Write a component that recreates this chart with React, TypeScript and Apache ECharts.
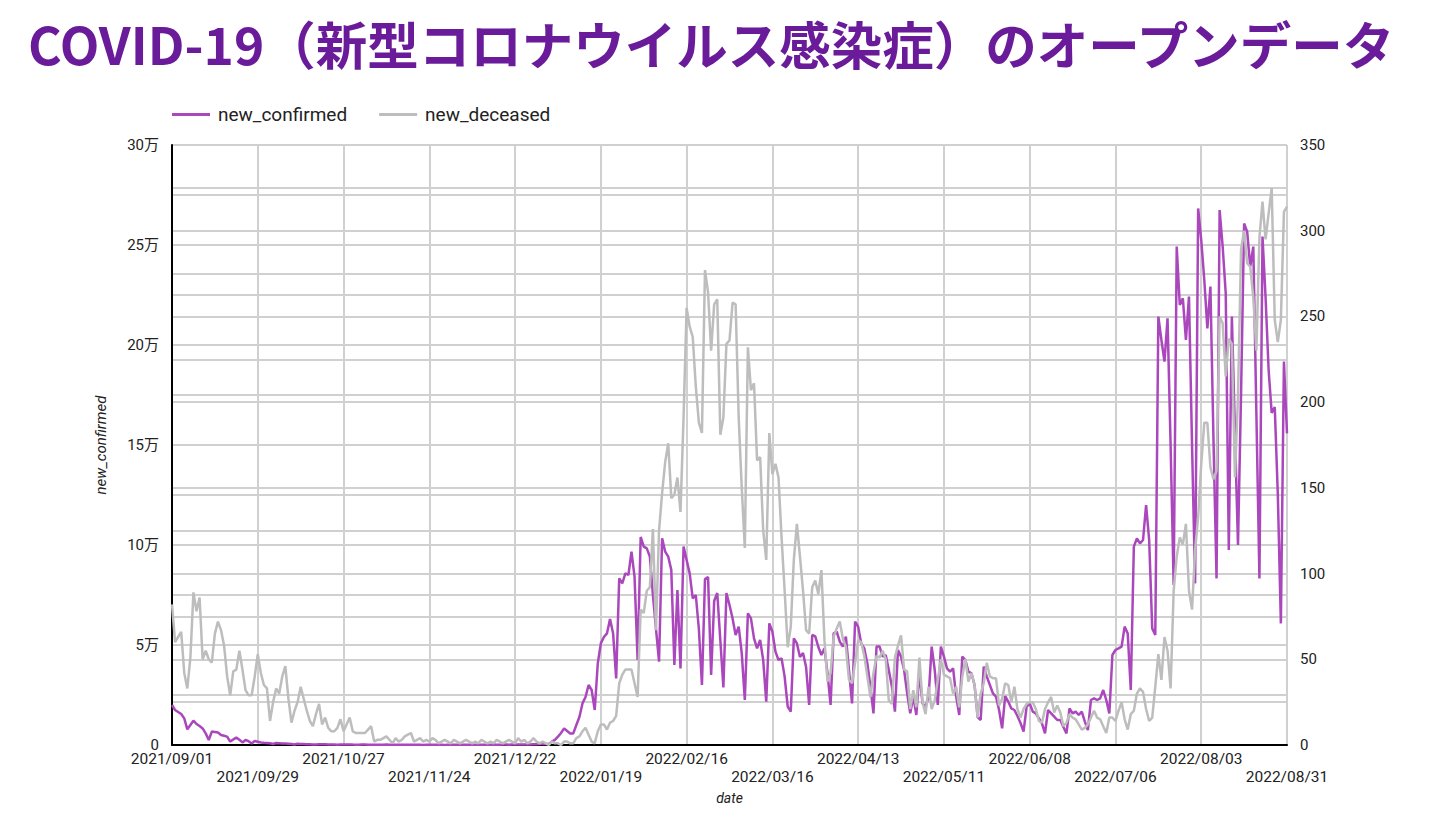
import React, { useEffect, useRef } from "react";
import * as echarts from "echarts";

const TITLE = "COVID-19（新型コロナウイルス感染症）のオープンデータ";
const SERIES_NAMES = ["new_confirmed", "new_deceased"];
const START = { y: 2021, m: 9, d: 1 };
const DAYS = 365;
const LABEL_STEP = 28;

const NEW_CONFIRMED = [
  20000, 17500, 16500, 15500, 13300, 7800, 10000,
  12200, 10500, 9500, 8300, 5800, 2500, 6700,
  6500, 6200, 5000, 4600, 4200, 1700, 2800,
  3700, 2600, 1300, 2500, 1900, 800, 2000,
  1600, 1300, 1100, 1000, 900, 500, 1000,
  900, 800, 700, 600, 500, 250, 600,
  500, 450, 400, 350, 300, 200, 400,
  400, 350, 300, 280, 260, 150, 300,
  280, 250, 230, 200, 180, 90, 220,
  200, 180, 170, 160, 150, 80, 180,
  190, 170, 150, 140, 130, 70, 150,
  160, 150, 130, 110, 100, 50, 120,
  100, 90, 110, 120, 100, 60, 120,
  130, 110, 130, 120, 110, 70, 140,
  160, 150, 170, 160, 150, 90, 180,
  190, 170, 180, 200, 190, 120, 220,
  250, 260, 250, 280, 270, 200, 380,
  400, 450, 550, 550, 450, 1700, 2600,
  4200, 6000, 8300, 7000, 5800, 5800, 10000,
  14000, 20800, 24000, 30000, 27500, 17500, 40800,
  50800, 54000, 55800, 63000, 55800, 33300, 83300,
  80800, 85800, 85000, 96700, 84200, 42500, 104000,
  99200, 98300, 94200, 75000, 58000, 41700, 103300,
  96700, 94200, 87500, 40000, 77500, 38300, 99200,
  92500, 85800, 73300, 75000, 58000, 30000, 83000,
  84000, 35000, 72000, 76000, 52500, 28800, 76000,
  70000, 63300, 55000, 59200, 45800, 22500, 65800,
  63300, 53300, 48300, 52500, 42500, 21700, 60800,
  56700, 46700, 42500, 43300, 34200, 19200, 16700,
  53300, 50800, 44000, 46000, 39000, 20000, 55000,
  54300, 49000, 45000, 48300, 35800, 20000, 55800,
  56700, 51700, 49200, 54200, 37500, 20800, 61700,
  59200, 50800, 48300, 40800, 29200, 15800, 49200,
  49200, 44200, 45000, 37500, 29200, 16700, 47500,
  44200, 37500, 25800, 15800, 24200, 15000, 36700,
  20800, 19200, 24200, 49200, 37500, 20000, 49200,
  44200, 38300, 36700, 38300, 24200, 15000, 44200,
  42500, 36700, 35800, 30000, 14000, 12500, 39200,
  34200, 30000, 25800, 24200, 17500, 8300, 24500,
  21700, 18300, 17500, 14500, 11000, 6700, 19200,
  20800, 16700, 15800, 13300, 10800, 5800, 17500,
  15800, 14200, 12500, 12500, 9000, 5800, 18300,
  15800, 16700, 15000, 16700, 11700, 7500, 22500,
  23300, 22500, 23300, 27500, 22500, 15800, 45000,
  47500, 48300, 49200, 59200, 55800, 27500, 99200,
  103300, 100800, 102500, 120000, 102500, 58300, 55000,
  214200, 202500, 191700, 213300, 150000, 80000, 249200,
  220000, 223300, 202500, 224200, 150000, 80800, 268300,
  252500, 232500, 208300, 229200, 152500, 83300, 267500,
  249200, 225800, 97500, 214200, 157000, 100000, 175700,
  260800, 256700, 239200, 249200, 166000, 83300, 254200,
  224000, 187500, 166000, 169000, 125500, 60800, 191700,
  155800,
];

const NEW_DECEASED = [
  82, 60, 63, 66, 42, 33, 51,
  89, 78, 86, 50, 55, 50, 48,
  65, 72, 67, 58, 40, 29, 43,
  44, 55, 44, 32, 29, 29, 40,
  53, 42, 35, 33, 14, 25, 33,
  30, 40, 46, 27, 13, 20, 25,
  34, 27, 20, 14, 11, 18, 24,
  12, 16, 10, 8, 8, 10, 15,
  8, 12, 16, 8, 7, 7, 7,
  7, 9, 11, 2, 3, 3, 4,
  5, 3, 1, 4, 2, 3, 5,
  6, 7, 2, 3, 4, 2, 3,
  2, 4, 3, 1, 2, 3, 2,
  1, 3, 2, 1, 2, 3, 2,
  1, 2, 1, 3, 2, 1, 2,
  1, 3, 2, 1, 2, 3, 2,
  1, 4, 2, 3, 1, 2, 4,
  2, 1, 2, 1, 0, 2, 1,
  1, 0, 2, 2, 1, 1, 4,
  5, 8, 10, 6, 2, 1, 8,
  12, 12, 9, 13, 14, 17, 36,
  41, 44, 44, 44, 36, 28, 79,
  77, 90, 92, 126, 67, 125, 147,
  165, 176, 144, 146, 156, 136, 191,
  255, 244, 238, 209, 188, 182, 277,
  264, 230, 257, 260, 181, 191, 234,
  236, 258, 257, 191, 150, 115, 232,
  207, 211, 166, 168, 125, 108, 182,
  158, 164, 156, 121, 90, 57, 69,
  108, 129, 110, 90, 67, 65, 92,
  96, 88, 102, 61, 37, 42, 63,
  68, 72, 62, 57, 38, 36, 48,
  61, 60, 52, 40, 28, 42, 52,
  51, 55, 50, 26, 24, 51, 58,
  64, 44, 43, 21, 32, 22, 51,
  25, 18, 34, 21, 26, 38, 50,
  41, 40, 39, 30, 34, 22, 40,
  50, 37, 42, 35, 16, 30, 36,
  48, 40, 39, 39, 23, 27, 36,
  35, 25, 34, 21, 16, 21, 24,
  25, 25, 21, 14, 13, 21, 25,
  28, 19, 23, 19, 11, 13, 18,
  16, 15, 12, 9, 10, 12, 16,
  20, 16, 15, 11, 7, 16, 16,
  14, 20, 25, 15, 9, 18, 20,
  30, 33, 31, 21, 14, 16, 34,
  53, 38, 63, 55, 33, 90, 110,
  121, 117, 129, 90, 79, 114, 133,
  164, 188, 188, 162, 155, 160, 250,
  246, 215, 237, 234, 156, 203, 289,
  300, 281, 279, 261, 230, 296, 317,
  295, 310, 325, 248, 235, 248, 311,
  314,
];

function buildDates(): string[] {
  const out: string[] = [];
  const d = new Date(Date.UTC(START.y, START.m - 1, START.d));
  for (let i = 0; i < DAYS; i++) {
    const y = d.getUTCFullYear();
    const m = String(d.getUTCMonth() + 1).padStart(2, "0");
    const dd = String(d.getUTCDate()).padStart(2, "0");
    out.push(`${y}/${m}/${dd}`);
    d.setUTCDate(d.getUTCDate() + 1);
  }
  return out;
}

const DATES = buildDates();

const GRID_COLOR = "#d0d0d0";
const PURPLE = "#ab47bc";
const GRAY = "#bdbdbd";
const FONT = 'Roboto, "Noto Sans CJK JP", sans-serif';

export default function App() {
  const ref = useRef<HTMLDivElement>(null);

  useEffect(() => {
    if (!ref.current) return;
    const chart = echarts.init(ref.current, undefined, { renderer: "svg" });
    const showTick = (idx: number) => idx % LABEL_STEP === 0;
    chart.setOption({
      animation: false,
      backgroundColor: "#ffffff",
      textStyle: { fontFamily: FONT },
      title: {
        text: TITLE,
        left: 28,
        top: 17,
        padding: 0,
        textStyle: {
          fontFamily: '"Noto Sans CJK JP", sans-serif',
          fontWeight: "bold",
          fontSize: 51.5,
          color: "#6a1b9a",
        },
      },
      legend: {
        left: 172,
        top: 105,
        padding: 0,
        icon: "rect",
        itemWidth: 38,
        itemHeight: 3,
        itemGap: 32,
        data: SERIES_NAMES,
        textStyle: {
          fontFamily: FONT,
          fontSize: 19,
          color: "#222222",
          padding: [0, 0, 0, 3],
        },
      },
      grid: { left: 172, right: 142, top: 145, bottom: 74, containLabel: false },
      xAxis: {
        type: "category",
        data: DATES,
        boundaryGap: false,
        name: "date",
        nameLocation: "middle",
        nameGap: 46,
        nameTextStyle: { fontStyle: "italic", fontSize: 14, color: "#222222", fontFamily: FONT },
        axisLine: { show: true, lineStyle: { color: "#000000", width: 2 } },
        axisTick: { show: false, interval: showTick },
        axisLabel: {
          interval: showTick,
          margin: 5,
          fontSize: 15.5,
          lineHeight: 18,
          color: "#222222",
          fontFamily: FONT,
          formatter: (v: string, idx: number) =>
            (idx / LABEL_STEP) % 2 === 1 ? "\n" + v : v,
        },
        splitLine: {
          show: true,
          interval: showTick,
          lineStyle: { color: GRID_COLOR, width: 2 },
        },
      },
      yAxis: [
        {
          type: "value",
          min: 0,
          max: 300000,
          interval: 25000,
          name: "new_confirmed",
          nameLocation: "middle",
          nameGap: 64,
          nameRotate: 90,
          nameTextStyle: { fontStyle: "italic", fontSize: 15, color: "#222222", fontFamily: FONT },
          axisLine: { show: true, lineStyle: { color: "#000000", width: 2 } },
          axisTick: { show: false },
          axisLabel: {
            margin: 13,
            fontSize: 15,
            color: "#222222",
            fontFamily: FONT,
            formatter: (v: number) =>
              v === 0 ? "0" : v % 50000 === 0 ? `${v / 10000}万` : "",
          },
          splitLine: { show: true, lineStyle: { color: GRID_COLOR, width: 2 } },
        },
        {
          type: "value",
          min: 0,
          max: 350,
          interval: 25,
          position: "right",
          axisLine: { show: false },
          axisTick: { show: false },
          axisLabel: {
            margin: 13,
            fontSize: 15,
            color: "#222222",
            fontFamily: FONT,
            formatter: (v: number) => (v % 50 === 0 ? String(v) : ""),
          },
          splitLine: { show: true, lineStyle: { color: GRID_COLOR, width: 2 } },
        },
      ],
      series: [
        {
          name: SERIES_NAMES[0],
          type: "line",
          yAxisIndex: 0,
          data: NEW_CONFIRMED,
          symbol: "none",
          lineStyle: { color: PURPLE, width: 2.5 },
          itemStyle: { color: PURPLE },
        },
        {
          name: SERIES_NAMES[1],
          type: "line",
          yAxisIndex: 1,
          data: NEW_DECEASED,
          symbol: "none",
          lineStyle: { color: GRAY, width: 2.5 },
          itemStyle: { color: GRAY },
        },
      ],
    });
    return () => chart.dispose();
  }, []);

  return (
    <div
      ref={ref}
      style={{ position: "fixed", left: 0, top: 0, width: 1429, height: 819, background: "#fff" }}
    />
  );
}
